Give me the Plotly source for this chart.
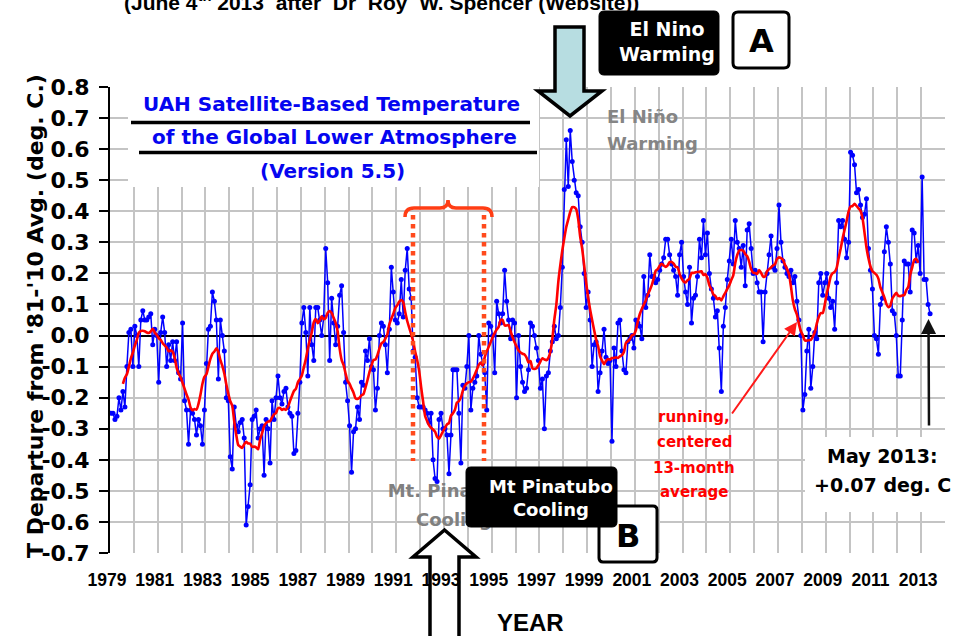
import numpy as np
import plotly.graph_objects as go

# ---------------- data (monthly anomalies, deg C) ----------------
t1979 = [-0.25, -0.25, -0.27, -0.26, -0.20, -0.24, -0.18, -0.23, -0.10, 0.01, 0.02, -0.10]
t1980 = [0.03, 0.00, -0.10, 0.05, 0.08, 0.05, 0.05, 0.06, 0.07, -0.03, 0.02, 0.00]
t1981 = [-0.15, 0.01, 0.06, 0.01, -0.10, -0.03, -0.08, -0.02, -0.08, -0.02, -0.12, -0.14]
t1982 = [0.04, -0.21, -0.24, -0.35, -0.24, -0.25, -0.27, -0.32, -0.27, -0.29, -0.35, -0.24]
t1983 = [-0.09, 0.02, 0.03, 0.14, 0.11, 0.05, -0.14, 0.05, 0.00, -0.05, -0.20, -0.21]
t1984 = [-0.39, -0.43, -0.23, -0.29, -0.31, -0.28, -0.27, -0.33, -0.61, -0.55, -0.48, -0.27]
t1985 = [-0.26, -0.24, -0.33, -0.30, -0.29, -0.45, -0.27, -0.30, -0.41, -0.21, -0.27, -0.20]
t1986 = [-0.13, -0.20, -0.22, -0.18, -0.17, -0.23, -0.25, -0.26, -0.38, -0.37, -0.25, -0.15]
t1987 = [0.04, 0.09, 0.01, -0.13, 0.09, -0.03, -0.08, 0.09, 0.09, 0.05, 0.00, 0.06]
t1988 = [0.28, 0.17, -0.08, 0.12, 0.04, -0.03, 0.03, 0.13, 0.16, 0.01, -0.15, -0.21]
t1989 = [-0.29, -0.44, -0.31, -0.30, -0.23, -0.27, -0.15, -0.16, -0.05, -0.08, -0.01, -0.10]
t1990 = [-0.11, -0.24, -0.17, 0.00, 0.04, 0.03, -0.03, -0.12, 0.02, 0.22, 0.14, 0.05]
t1991 = [0.04, 0.07, 0.18, 0.06, 0.21, 0.28, 0.15, 0.12, -0.05, -0.07, -0.20, -0.23]
t1992 = [-0.23, -0.23, -0.24, -0.25, -0.28, -0.25, -0.40, -0.46, -0.47, -0.27, -0.25, -0.30]
t1993 = [-0.30, -0.32, -0.445, -0.32, -0.11, -0.11, -0.11, -0.25, -0.41, -0.16, -0.17, -0.10]
t1994 = [0.00, -0.24, -0.17, -0.15, -0.13, 0.00, -0.06, -0.09, -0.12, -0.24, 0.04, 0.03]
t1995 = [0.00, -0.12, 0.11, 0.07, 0.04, 0.07, 0.21, 0.11, 0.05, -0.01, 0.05, 0.04]
t1996 = [-0.20, 0.00, -0.10, -0.15, -0.18, -0.17, -0.11, 0.04, 0.03, 0.00, -0.04, -0.08]
t1997 = [-0.17, -0.14, -0.30, -0.13, -0.12, -0.05, -0.02, 0.03, -0.01, 0.00, 0.09, 0.22]
t1998 = [0.47, 0.63, 0.48, 0.66, 0.56, 0.50, 0.46, 0.45, 0.35, 0.30, 0.20, 0.09]
t1999 = [0.14, 0.05, -0.10, -0.03, -0.02, -0.18, -0.12, -0.05, 0.02, -0.07, -0.09, -0.08]
t2000 = [-0.34, -0.04, -0.10, 0.04, 0.05, -0.05, -0.11, -0.12, -0.02, -0.01, 0.00, -0.04]
t2001 = [0.05, 0.04, 0.03, -0.01, 0.19, 0.09, 0.13, 0.26, 0.19, 0.19, 0.17, 0.18]
t2002 = [0.21, 0.23, 0.25, 0.31, 0.31, 0.26, 0.23, 0.21, 0.19, 0.13, 0.26, 0.30]
t2003 = [0.19, 0.14, 0.10, 0.22, 0.04, 0.12, 0.13, 0.19, 0.31, 0.25, 0.37, 0.26]
t2004 = [0.33, 0.20, 0.15, 0.12, 0.06, 0.08, -0.04, -0.18, 0.03, 0.09, 0.18, 0.24]
t2005 = [0.31, 0.23, 0.37, 0.30, 0.28, 0.22, 0.29, 0.16, 0.34, 0.36, 0.28, 0.20]
t2006 = [0.21, 0.17, 0.14, 0.14, -0.02, 0.14, 0.20, 0.26, 0.32, 0.22, 0.21, 0.28]
t2007 = [0.42, 0.30, 0.24, 0.22, 0.20, 0.19, 0.21, 0.17, 0.19, 0.11, 0.05, 0.00]
t2008 = [-0.24, -0.19, -0.05, 0.02, -0.17, -0.10, 0.01, -0.01, 0.17, 0.20, 0.13, 0.17]
t2009 = [0.20, 0.12, 0.09, 0.11, 0.02, 0.17, 0.37, 0.35, 0.37, 0.31, 0.25, 0.30]
t2010 = [0.59, 0.58, 0.55, 0.46, 0.47, 0.42, 0.38, 0.39, 0.44, 0.28, 0.21, 0.15]
t2011 = [0.00, -0.01, -0.06, 0.10, 0.12, 0.27, 0.35, 0.30, 0.23, 0.08, 0.07, 0.00]
t2012 = [-0.13, -0.13, 0.05, 0.24, 0.23, 0.23, 0.14, 0.34, 0.33, 0.24, 0.29, 0.20]
t2013 = [0.51, 0.18, 0.18, 0.10, 0.07]

first_year = 1979
yearly_rows = [t1979, t1980, t1981, t1982, t1983, t1984, t1985, t1986, t1987, t1988,
               t1989, t1990, t1991, t1992, t1993, t1994, t1995, t1996, t1997, t1998,
               t1999, t2000, t2001, t2002, t2003, t2004, t2005, t2006, t2007, t2008,
               t2009, t2010, t2011, t2012, t2013]

y_tick_vals = [0.8, 0.7, 0.6, 0.5, 0.4, 0.3, 0.2, 0.1, 0.0, -0.1, -0.2, -0.3, -0.4, -0.5, -0.6, -0.7]
y_tick_text = ["0.8", "0.7", "0.6", "0.5", "0.4", "0.3", "0.2", "0.1", "0.0",
               "-0.1", "-0.2", "-0.3", "-0.4", "-0.5", "-0.6", "-0.7"]
x_tick_years = list(range(1979, 2014, 2))
x_tick_text = [str(y) for y in x_tick_years]

# ---------------- derived series ----------------
xs, vals = [], []
for i, row in enumerate(yearly_rows):
    for m, v in enumerate(row):
        xs.append(first_year + i + (m + 0.5) / 12.0)
        vals.append(v)
xs = np.array(xs)
vals = np.array(vals)
run13 = np.convolve(vals, np.ones(13) / 13.0, mode="valid")
run_x = xs[6:-6]

# ---------------- geometry helpers (pixel -> paper / data) ----------------
W, H = 954, 636
ML, MR, MT, MB = 110, 9, 87, 83
PW, PH = W - ML - MR, H - MT - MB
XR = [1979.0, 2014.0]
YR = [-0.7, 0.8]


def px(x):
    return (x - ML) / PW


def py(y):
    return (H - MB - y) / PH


def dx(x):
    return XR[0] + (x - ML) / PW * (XR[1] - XR[0])


def dy(y):
    return YR[0] + (H - MB - y) / PH * (YR[1] - YR[0])


def pt(x, y):
    return f"{px(x):.5f},{py(y):.5f}"


def rrect_path(x0, y0, x1, y1, r):
    return (f"M {pt(x0 + r, y0)} L {pt(x1 - r, y0)} Q {pt(x1, y0)} {pt(x1, y0 + r)} "
            f"L {pt(x1, y1 - r)} Q {pt(x1, y1)} {pt(x1 - r, y1)} L {pt(x0 + r, y1)} "
            f"Q {pt(x0, y1)} {pt(x0, y1 - r)} L {pt(x0, y0 + r)} Q {pt(x0, y0)} {pt(x0 + r, y0)} Z")


BOLD_SANS = "DejaVu Sans"
ARIAL = "Liberation Sans"

fig = go.Figure()

fig.add_trace(go.Scatter(
    x=xs, y=vals, mode="lines+markers",
    line=dict(color="#0000ff", width=1.5),
    marker=dict(color="#0000ff", size=5),
    hoverinfo="skip", showlegend=False))

fig.add_trace(go.Scatter(
    x=run_x, y=run13, mode="lines",
    line=dict(color="#ff0000", width=2.6, shape="spline", smoothing=0.6),
    hoverinfo="skip", showlegend=False))

# grey "Mt. Pinatubo Cooling" label (sits beneath the black box)
fig.add_trace(go.Scatter(
    x=[dx(453), dx(454)], y=[dy(492), dy(521)], mode="text",
    text=["Mt. Pinatubo", "Cooling"],
    textfont=dict(family=BOLD_SANS, size=18, color="#808080", weight="bold"),
    cliponaxis=False, hoverinfo="skip", showlegend=False))

shapes = []
# title white panel and underlines
shapes.append(dict(type="rect", xref="paper", yref="paper", x0=px(128), x1=px(539), y0=py(84), y1=py(187),
                   fillcolor="white", line=dict(width=0)))
shapes.append(dict(type="line", xref="paper", yref="paper", x0=px(131), x1=px(530), y0=py(122.5), y1=py(122.5),
                   line=dict(color="black", width=3.5)))
shapes.append(dict(type="line", xref="paper", yref="paper", x0=px(139), x1=px(537), y0=py(152.5), y1=py(152.5),
                   line=dict(color="black", width=3.5)))
# light blue El Nino arrow
shapes.append(dict(type="path", xref="paper", yref="paper",
                   path=f"M {pt(555,27)} L {pt(584,27)} L {pt(584,91)} L {pt(602,91)} L {pt(570,116)} "
                        f"L {pt(538,91)} L {pt(555,91)} Z",
                   fillcolor="#b7dde1", line=dict(color="black", width=3.5)))
# El Nino box and A box
shapes.append(dict(type="path", xref="paper", yref="paper", path=rrect_path(599, 11, 719, 75, 5),
                   fillcolor="black", line=dict(color="black", width=1)))
shapes.append(dict(type="path", xref="paper", yref="paper", path=rrect_path(733, 12, 789, 68, 5),
                   fillcolor="white", line=dict(color="black", width=3)))
# red brace and dotted lines
brace = (f"M {pt(405,217)} Q {pt(405,208)} {pt(414,208)} L {pt(440,208)} Q {pt(448,208)} {pt(448,200)} "
         f"Q {pt(448,208)} {pt(456,208)} L {pt(483,208)} Q {pt(492,208)} {pt(492,217)}")
shapes.append(dict(type="path", xref="paper", yref="paper", path=brace,
                   line=dict(color="#ff3d14", width=3.5)))
for xline in (413, 484):
    shapes.append(dict(type="line", xref="paper", yref="paper", x0=px(xline), x1=px(xline),
                       y0=py(215), y1=py(461), line=dict(color="#ff4a1c", width=4.5, dash="dot")))
# B box, then the black Pinatubo box over it
shapes.append(dict(type="path", xref="paper", yref="paper", path=rrect_path(599, 506, 657, 562, 4),
                   fillcolor="white", line=dict(color="black", width=3)))
shapes.append(dict(type="path", xref="paper", yref="paper", path=rrect_path(466, 467, 617, 527, 5),
                   fillcolor="black", line=dict(color="black", width=1)))
# hollow up arrow at the bottom
shapes.append(dict(type="path", xref="paper", yref="paper",
                   path=f"M {pt(413,557)} L {pt(444.5,530)} L {pt(476,557)} Z",
                   fillcolor="white", line=dict(width=0)))
shapes.append(dict(type="path", xref="paper", yref="paper",
                   path=f"M {pt(430,640)} L {pt(430,557)} L {pt(413,557)} L {pt(444.5,530)} L {pt(476,557)} "
                        f"L {pt(459,557)} L {pt(459,640)}",
                   line=dict(color="black", width=3.5)))
# white panel behind "May 2013"
shapes.append(dict(type="rect", xref="paper", yref="paper", x0=px(805), x1=px(960), y0=py(437), y1=py(512),
                   fillcolor="white", line=dict(width=0)))

ann = []


def text(t, x, y, size, color="black", family=BOLD_SANS, xanchor="center", yanchor="middle", **kw):
    ann.append(dict(text=t, x=px(x), y=py(y), xref="paper", yref="paper", showarrow=False,
                    xanchor=xanchor, yanchor=yanchor,
                    font=dict(family=family, size=size, color=color, weight="bold"), **kw))


text("(June 4<sup>th</sup> 2013 \u00a0after \u00a0Dr \u00a0Roy \u00a0W. Spencer (Website))", 381, 1, 21, family=ARIAL)
text("UAH Satellite-Based Temperature", 331, 103.5, 20, color="#0505f0")
text("of the Global Lower Atmosphere", 334, 137, 20, color="#0505f0")
text("(Version 5.5)", 332, 171, 20, color="#0505f0")
text("El Nino<br>Warming", 667, 42, 19, color="white")
text("A", 761, 41, 32)
text("El Niño", 605, 116, 18, color="#858585", xanchor="left")
text("Warming", 605, 143, 18, color="#858585", xanchor="left")
text("Mt Pinatubo<br>Cooling", 551, 498, 18, color="white")
text("B", 628, 536, 32)
for line_txt, yy in (("running,", 417), ("centered", 442), ("13-month", 468), ("average", 492)):
    text(line_txt, 694, yy, 15, color="#ff0000")
text("May 2013:", 882, 456, 19)
text("+0.07 deg. C", 882, 485, 19)
text("T Departure from '81-'10 Avg. (deg. C.)", 35, 316, 22, textangle=-90)
text("YEAR", 530, 622, 24, family=ARIAL)

# red arrow (running mean) and black arrow (May 2013)
ann.append(dict(x=px(797), y=py(322), xref="paper", yref="paper", text="", showarrow=True,
                ax=731 - 797, ay=415 - 322, arrowhead=2, arrowsize=1.3, arrowwidth=2,
                arrowcolor="#ff1a1a", standoff=0))
ann.append(dict(x=px(928.5), y=py(319), xref="paper", yref="paper", text="", showarrow=True,
                ax=0.5, ay=427 - 319, arrowhead=2, arrowsize=1.2, arrowwidth=2.5,
                arrowcolor="#111111", standoff=0))

GRID = "#c4c4c4"
fig.update_layout(
    width=W, height=H,
    margin=dict(l=ML, r=MR, t=MT, b=MB, pad=0, autoexpand=False),
    paper_bgcolor="white", plot_bgcolor="white",
    showlegend=False, hovermode=False,
    shapes=shapes, annotations=ann,
    xaxis=dict(range=XR, tickmode="array", tickvals=x_tick_years,
               ticktext=x_tick_text, automargin=False, ticklabelshift=-3,
               showgrid=True, gridcolor=GRID, gridwidth=1.5, zeroline=False, showline=False,
               ticks="", ticklabelstandoff=14,
               tickfont=dict(family=ARIAL, size=17.5, color="black", weight="bold"),
               minor=dict(tickmode="linear", dtick=1, tick0=1979, showgrid=True, gridcolor=GRID,
                          gridwidth=1.5, ticks="")),
    xaxis2=dict(range=XR, overlaying="x", anchor="free", position=(0 - YR[0]) / (YR[1] - YR[0]),
                side="bottom", tickmode="linear", tick0=1979, dtick=1, ticks="outside", ticklen=5,
                tickwidth=1.5, tickcolor="black", showticklabels=False, showgrid=False,
                zeroline=False, showline=False, automargin=False),
    yaxis=dict(range=YR, tickmode="array", tickvals=y_tick_vals, ticktext=y_tick_text, automargin=False,
               showgrid=True, gridcolor=GRID, gridwidth=1.5,
               zeroline=True, zerolinecolor="black", zerolinewidth=1.5,
               showline=True, linecolor="black", linewidth=2,
               ticks="outside", ticklen=9, tickwidth=1.5, tickcolor="black", ticklabelstandoff=5,
               tickfont=dict(family=BOLD_SANS, size=22, color="black", weight="bold")),
)

# the page's default 8px body margin would offset the chart; remove it
fig.write_html("out.html", config={"displayModeBar": False},
               post_script="document.body.style.margin='0px';")
